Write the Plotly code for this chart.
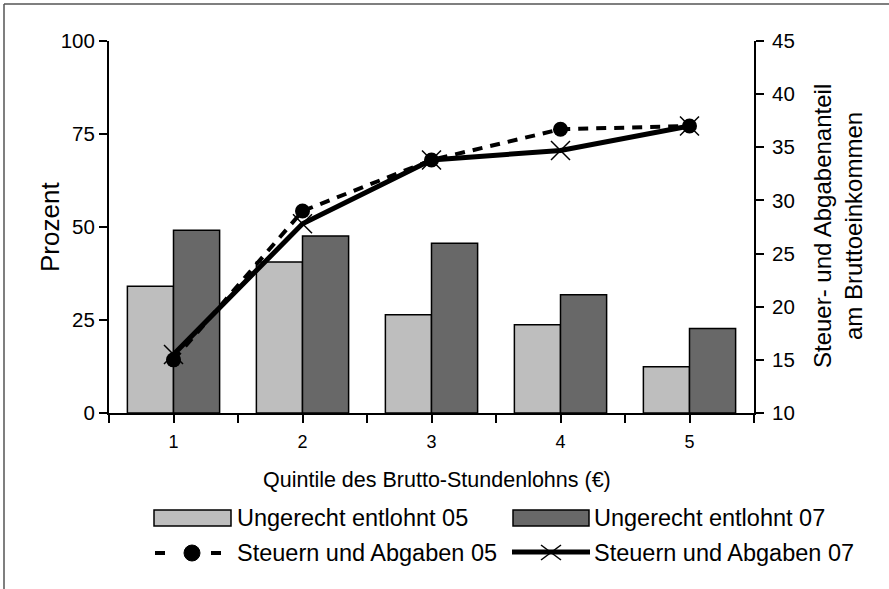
import plotly.graph_objects as go

# ---- data ----
quintile = [1, 2, 3, 4, 5]
tick_labels = ["1", "2", "3", "4", "5"]
unfair_05 = [34.1, 40.6, 26.4, 23.7, 12.4]
unfair_07 = [49.1, 47.6, 45.6, 31.8, 22.7]
tax_05 = [15.0, 29.0, 33.8, 36.7, 37.0]
tax_07 = [15.5, 27.8, 33.8, 34.7, 37.0]
legend_names = ["Ungerecht entlohnt 05", "Ungerecht entlohnt 07",
                "Steuern und Abgaben 05", "Steuern und Abgaben 07"]

FONT = "Arial, Liberation Sans, sans-serif"
LIGHT = "#bebebe"
DARK = "#686868"

W, H = 889, 589
L, R, T, B = 109, 754, 41, 413


def px(x):
    return (x - L) / (R - L)


def py(y):
    return (B - y) / (B - T)


fig = go.Figure()
fig.add_bar(x=quintile, y=unfair_05, name=legend_names[0], marker=dict(color=LIGHT, line=dict(color="black", width=1.5)),
            showlegend=False)
fig.add_bar(x=quintile, y=unfair_07, name=legend_names[1], marker=dict(color=DARK, line=dict(color="black", width=1.5)),
            showlegend=False)
fig.add_scatter(x=quintile, y=tax_05, name=legend_names[2], yaxis="y2", mode="lines+markers",
                line=dict(color="black", width=4, dash="10px,8px"),
                marker=dict(symbol="circle", size=15, color="black"), showlegend=False)
fig.add_scatter(x=quintile, y=tax_07, name=legend_names[3], yaxis="y2", mode="lines+markers",
                line=dict(color="black", width=5),
                marker=dict(symbol="x-thin-open", size=19, color="black", line=dict(color="black", width=1.5)),
                showlegend=False)

xt_vals, xt_text = [], []
for q, lab in zip(quintile, tick_labels):
    xt_vals += [q - 0.5, q]
    xt_text += ["", lab]
xt_vals.append(quintile[-1] + 0.5)
xt_text.append("")

axis_common = dict(showline=True, linecolor="black", linewidth=2, ticks="outside", ticklen=8,
                   tickwidth=2, tickcolor="black", showgrid=False, zeroline=False)

fig.update_layout(
    width=W, height=H,
    margin=dict(l=L, r=W - R, t=T, b=H - B, pad=0),
    paper_bgcolor="white", plot_bgcolor="white",
    font=dict(family=FONT, color="black"),
    barmode="group", bargap=0.285, bargroupgap=0,
    showlegend=False,
    xaxis=dict(range=[0.5, 5.5], tickvals=xt_vals, ticktext=xt_text,
               tickfont=dict(size=18), ticklabelstandoff=3, **axis_common),
    yaxis=dict(range=[0, 100], tickvals=[0, 25, 50, 75, 100], tickfont=dict(size=20.5), **axis_common),
    yaxis2=dict(range=[10, 45], tickvals=[10, 15, 20, 25, 30, 35, 40, 45], side="right", overlaying="y",
                tickfont=dict(size=20.5), ticklabelstandoff=4, **axis_common),
)

ann = []
ann.append(dict(text="Prozent", x=px(50), y=py(227), xref="paper", yref="paper", textangle=-90,
                showarrow=False, font=dict(size=26), xanchor="center", yanchor="middle"))
ann.append(dict(text="Steuer- und Abgabenanteil", x=px(822), y=py(226), xref="paper", yref="paper",
                textangle=-90, showarrow=False, font=dict(size=24), xanchor="center", yanchor="middle"))
ann.append(dict(text="am Bruttoeinkommen", x=px(853), y=py(226), xref="paper", yref="paper",
                textangle=-90, showarrow=False, font=dict(size=24), xanchor="center", yanchor="middle"))
ann.append(dict(text="Quintile des Brutto-Stundenlohns (€)", x=px(436.5), y=py(480), xref="paper", yref="paper",
                showarrow=False, font=dict(size=21.5), xanchor="center", yanchor="middle"))
# legend texts
for name, (x, y) in zip(legend_names, [(235, 518), (592, 518), (235, 553), (592, 553)]):
    ann.append(dict(text=name, x=px(x), y=py(y), xref="paper", yref="paper", showarrow=False,
                    font=dict(size=23.5), xanchor="left", yanchor="middle"))
fig.update_layout(annotations=ann)

shapes = []
# legend swatches
shapes.append(dict(type="rect", xref="paper", yref="paper", x0=px(154), x1=px(231), y0=py(510), y1=py(526),
                   fillcolor=LIGHT, line=dict(color="black", width=1.5)))
shapes.append(dict(type="rect", xref="paper", yref="paper", x0=px(513), x1=px(589), y0=py(510), y1=py(526),
                   fillcolor=DARK, line=dict(color="black", width=1.5)))
for a, b in [(155, 165), (211, 221)]:
    shapes.append(dict(type="line", xref="paper", yref="paper", x0=px(a), x1=px(b), y0=py(553), y1=py(553),
                       line=dict(color="black", width=4)))
shapes.append(dict(type="circle", xref="paper", yref="paper", x0=px(184), x1=px(200), y0=py(545), y1=py(561),
                   fillcolor="black", line=dict(color="black", width=1)))
shapes.append(dict(type="line", xref="paper", yref="paper", x0=px(512), x1=px(590), y0=py(552), y1=py(552),
                   line=dict(color="black", width=5)))
shapes.append(dict(type="line", xref="paper", yref="paper", x0=px(541), x1=px(561), y0=py(545), y1=py(560),
                   line=dict(color="black", width=1.5)))
shapes.append(dict(type="line", xref="paper", yref="paper", x0=px(541), x1=px(561), y0=py(560), y1=py(545),
                   line=dict(color="black", width=1.5)))
# outer frame (top and left edges)
shapes.append(dict(type="line", xref="paper", yref="paper", x0=px(4), x1=px(889), y0=py(4), y1=py(4),
                   line=dict(color="#555555", width=1.5)))
shapes.append(dict(type="line", xref="paper", yref="paper", x0=px(4), x1=px(4), y0=py(4), y1=py(589),
                   line=dict(color="#555555", width=1.5)))
fig.update_layout(shapes=shapes)

fig.write_html("out.html", config={"displayModeBar": False},
               post_script="document.body.style.margin='0px';")
